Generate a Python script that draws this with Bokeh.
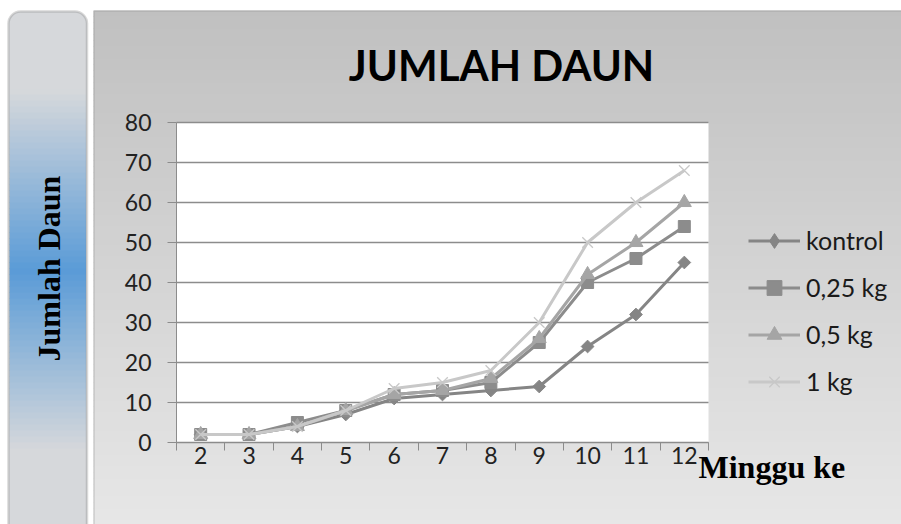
import numpy as np
from bokeh.plotting import figure
from bokeh.models import BoxAnnotation, Label, Legend, LegendItem, FixedTicker, Range1d
from bokeh.embed import file_html
from bokeh.resources import INLINE

# ---- data ----
weeks = [2, 3, 4, 5, 6, 7, 8, 9, 10, 11, 12]
tick_labels = ["2", "3", "4", "5", "6", "7", "8", "9", "10", "11", "12"]
y_ticks = [0, 10, 20, 30, 40, 50, 60, 70, 80]
series_names = ["kontrol", "0,25 kg", "0,5 kg", "1 kg"]
kontrol = [2, 2, 4, 7, 11, 12, 13, 14, 24, 32, 45]
kg_025 = [2, 2, 5, 8, 12, 13, 15, 25, 40, 46, 54]
kg_05 = [2, 2, 4, 8, 12, 13, 16, 26, 42, 50, 60]
kg_1 = [2, 2, 4, 8, 13.5, 15, 18, 30, 50, 60, 68]
title_text = "JUMLAH DAUN"
y_title = "Jumlah Daun"
x_title = "Minggu ke"

# ---- layout (canvas pixel coordinates) ----
W, H = 901, 524
PL, PT, PR, PB = 176, 122, 708, 442     # plot area in pixels
X0, X1 = 1.5, 12.5                       # data extent of plot area
Y0, Y1 = 0, 80
kx = (PR - PL) / (X1 - X0)
ky = (PB - PT) / (Y1 - Y0)
x_range = Range1d(X0 - PL / kx, X1 + (W - PR) / kx)
y_range = Range1d(Y0 - (H - PB) / ky, Y1 + PT / ky)


def sx(px):
    return px


def sy(py):
    return H - py


p = figure(width=W, height=H, output_backend="svg", toolbar_location=None,
           x_range=x_range, y_range=y_range,
           min_border_left=0, min_border_right=0, min_border_top=0, min_border_bottom=0)
p.outline_line_color = None
p.border_fill_color = "white"
p.background_fill_color = "white"


def mix(c1, c2, t):
    c = [int(round(a + (b - a) * t)) for a, b in zip(c1, c2)]
    return "#%02x%02x%02x" % tuple(c)


def sbox(l, r, t, b, **kw):
    return BoxAnnotation(left=sx(l), right=sx(r), top=sy(t), bottom=sy(b),
                         left_units="screen", right_units="screen",
                         top_units="screen", bottom_units="screen", level="image", **kw)


# main chart area gradient
step = 6
for y0 in range(10, 530, step):
    g = min(192 + (y0 + step / 2 - 10) * (37 / 490), 232)
    p.add_layout(sbox(93, 910, y0, y0 + step + 0.5, fill_color=mix((g, g, g), (g, g, g), 0),
                      fill_alpha=1, line_color=None))
p.add_layout(sbox(93.5, 920, 10.5, 560, fill_alpha=0, line_color="#8a8a8a", line_width=1.5))

# left rounded box with blue gradient
GRAY = (214, 216, 219)
BLUE = (90, 155, 215)
p.add_layout(sbox(8, 86.5, 11, 580, fill_color=mix(GRAY, BLUE, 0), fill_alpha=1,
                  line_color=None, border_radius=12))
for y0 in range(28, 540, step):
    t = max(0.0, 1 - abs(y0 + step / 2 - 270) / 180)
    p.add_layout(sbox(9, 85.5, y0, y0 + step + 0.5, fill_color=mix(GRAY, BLUE, t),
                      fill_alpha=1, line_color=None))
p.add_layout(sbox(8, 86.5, 11, 580, fill_alpha=0, line_color="#7f7f7f", line_width=2.5,
                  border_radius=12))

# white plot area
p.add_layout(BoxAnnotation(left=X0, right=X1, bottom=Y0, top=Y1, fill_color="white",
                           fill_alpha=1, line_color=None, level="image"))

# grid
p.xgrid.visible = False
p.ygrid.cross_bounds = (X0, X1)
p.ygrid.bounds = (Y0, Y1)
p.ygrid.ticker = FixedTicker(ticks=y_ticks)
p.ygrid.grid_line_color = "#8c8c8c"
p.ygrid.grid_line_width = 1.3

# axes
p.yaxis.fixed_location = X0
p.yaxis.bounds = (Y0, Y1)
p.yaxis.ticker = FixedTicker(ticks=y_ticks)
p.yaxis.axis_line_color = "#8c8c8c"
p.yaxis.major_tick_line_color = "#8c8c8c"
p.yaxis.major_tick_out = 9
p.yaxis.major_tick_in = 0
p.yaxis.minor_tick_line_color = None
p.yaxis.major_label_standoff = 16
p.yaxis.major_label_text_font = "Lato"
p.yaxis.major_label_text_font_size = "23px"
p.yaxis.major_label_text_color = "#222222"

p.xaxis.fixed_location = Y0
p.xaxis.bounds = (X0, X1)
p.xaxis.ticker = FixedTicker(ticks=weeks, minor_ticks=[w - 0.5 for w in weeks] + [weeks[-1] + 0.5])
p.xaxis.major_label_overrides = {w: lab for w, lab in zip(weeks, tick_labels)}
p.xaxis.axis_line_color = "#8c8c8c"
p.xaxis.major_tick_out = 0
p.xaxis.major_tick_in = 0
p.xaxis.minor_tick_out = 8
p.xaxis.minor_tick_in = 0
p.xaxis.minor_tick_line_color = "#8c8c8c"
p.xaxis.major_label_standoff = -4
p.xaxis.major_label_text_font = "Lato"
p.xaxis.major_label_text_font_size = "23px"
p.xaxis.major_label_text_color = "#222222"

# series
series = [kontrol, kg_025, kg_05, kg_1]
colors = ["#858585", "#8c8c8c", "#a5a5a5", "#c8c8c8"]
items = []
for name, vals, col in zip(series_names, series, colors):
    ln = p.line(weeks, vals, line_color=col, line_width=3)
    if name == "kontrol":
        mk = p.scatter(weeks, vals, marker="square", angle=np.pi / 4, size=9,
                       fill_color=col, line_color=col)
        # legend-only diamond (legend glyphs ignore marker rotation)
        mk = p.scatter(weeks, vals, marker="diamond", fill_color=col, line_color=col,
                       visible=False)
    elif name == "0,25 kg":
        mk = p.scatter(weeks, vals, marker="square", size=12, fill_color=col, line_color=col)
    elif name == "0,5 kg":
        mk = p.scatter(weeks, vals, marker="triangle", size=14, fill_color=col, line_color=col)
    else:
        mk = p.scatter(weeks, vals, marker="x", size=15, line_color=col, line_width=1.3)
    items.append(LegendItem(label=name, renderers=[ln, mk]))

legend = Legend(items=items, location=(sx(748), sy(399.5)), orientation="vertical",
                glyph_width=52, glyph_height=37, label_standoff=6, spacing=10,
                padding=0, margin=0, border_line_color=None, background_fill_alpha=0,
                label_text_font="Lato", label_text_font_size="25px",
                label_text_color="#1a1a1a", label_height=20)
p.add_layout(legend, "center")

# texts
p.add_layout(Label(x=sx(501), y=sy(64), x_units="screen", y_units="screen", text=title_text,
                   text_align="center", text_baseline="alphabetic", text_font="Lato",
                   text_font_style="bold", text_font_size="42px", text_color="black"))
p.add_layout(Label(x=sx(48), y=sy(268), x_units="screen", y_units="screen", text=y_title,
                   angle=np.pi / 2, text_align="center", text_baseline="middle",
                   text_font="Liberation Serif", text_font_style="bold",
                   text_font_size="32px", text_color="black"))
p.add_layout(Label(x=sx(698), y=sy(466.5), x_units="screen", y_units="screen", text=x_title,
                   text_align="left", text_baseline="alphabetic",
                   text_font="Liberation Serif", text_font_style="bold",
                   text_font_size="32px", text_color="black"))

open("out.html", "w").write(file_html(p, INLINE))
